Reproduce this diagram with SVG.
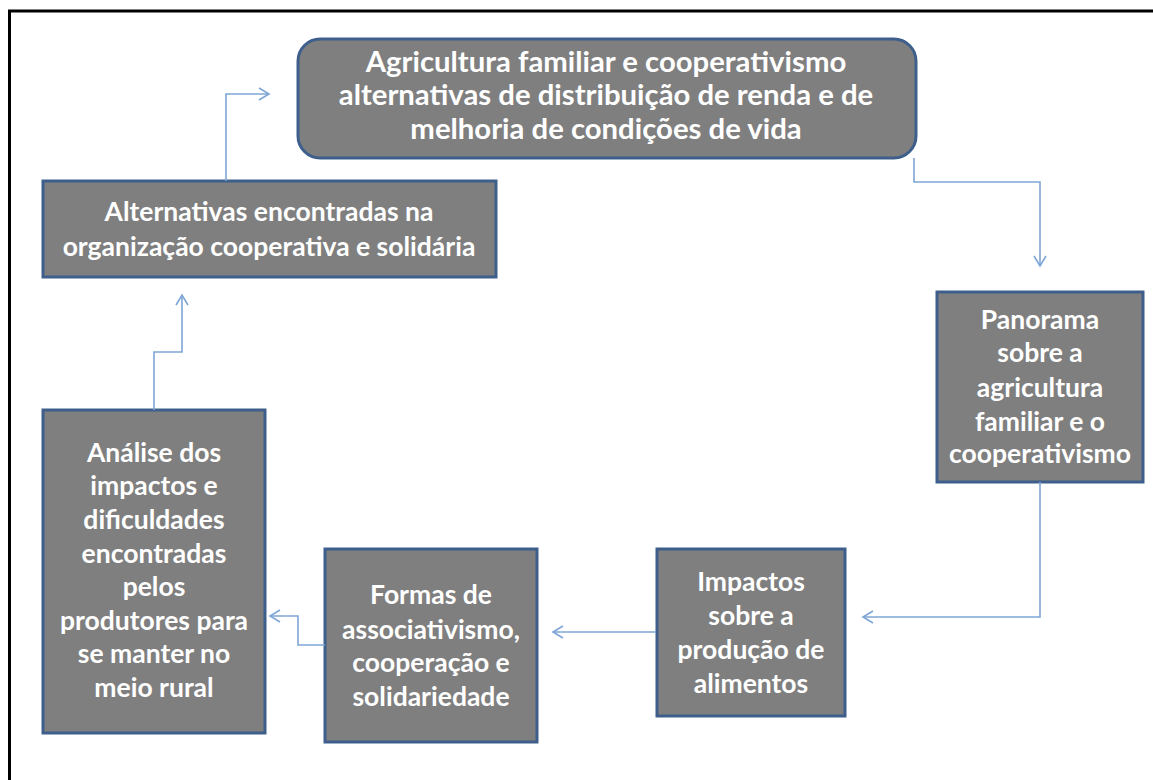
<svg xmlns="http://www.w3.org/2000/svg" width="1153" height="780" viewBox="0 0 1153 780">
<defs>
<style>
.box{fill:#7f7f7f;stroke:#3e5f8c;stroke-width:3}
.t{font-family:Lato,"Liberation Sans",sans-serif;font-weight:bold;fill:#ffffff;text-anchor:middle;font-size:26.5px}
.tt{font-size:29.3px}
.c{fill:none;stroke:#7fa5d6;stroke-width:1.6}
</style>
<marker id="ah" markerUnits="userSpaceOnUse" markerWidth="14" markerHeight="16" refX="11" refY="7" orient="auto">
<path d="M1,1 L11,7 L1,13" fill="none" stroke="#7fa5d6" stroke-width="1.6"/>
</marker>
</defs>
<rect width="1153" height="780" fill="#ffffff"/>
<path d="M9.5,780 V11 H1153" fill="none" stroke="#000000" stroke-width="3"/>

<g id="n_top">
<rect class="box" x="298" y="39" width="618" height="119" rx="22"/>
<text class="t tt" x="606" y="72">Agricultura familiar e cooperativismo</text>
<text class="t tt" x="606" y="105">alternativas de distribuição de renda e de</text>
<text class="t tt" x="606" y="139">melhoria de condições de vida</text>
</g>
<g id="n_panorama">
<rect class="box" x="937" y="292" width="206" height="190"/>
<text class="t" x="1040" y="329">Panorama</text>
<text class="t" x="1040" y="362">sobre a</text>
<text class="t" x="1040" y="397">agricultura</text>
<text class="t" x="1040" y="431">familiar e o</text>
<text class="t" x="1040" y="463">cooperativismo</text>
</g>
<g id="n_impactos">
<rect class="box" x="657" y="549" width="188" height="167"/>
<text class="t" x="751" y="591">Impactos</text>
<text class="t" x="751" y="625">sobre a</text>
<text class="t" x="751" y="659">produção de</text>
<text class="t" x="751" y="693">alimentos</text>
</g>
<g id="n_formas">
<rect class="box" x="325" y="549" width="212" height="193"/>
<text class="t" x="431" y="604">Formas de</text>
<text class="t" x="431" y="639">associativismo,</text>
<text class="t" x="431" y="672">cooperação e</text>
<text class="t" x="431" y="706">solidariedade</text>
</g>
<g id="n_analise">
<rect class="box" x="43" y="410" width="222" height="323"/>
<text class="t" x="154" y="462">Análise dos</text>
<text class="t" x="154" y="495">impactos e</text>
<text class="t" x="154" y="529">dificuldades</text>
<text class="t" x="154" y="563">encontradas</text>
<text class="t" x="154" y="596">pelos</text>
<text class="t" x="154" y="630">produtores para</text>
<text class="t" x="154" y="663">se manter no</text>
<text class="t" x="154" y="697">meio rural</text>
</g>
<g id="n_alternativas">
<rect class="box" x="43" y="181" width="453" height="96"/>
<text class="t" x="269" y="221">Alternativas encontradas na</text>
<text class="t" x="269" y="256">organização cooperativa e solidária</text>
</g>

<g id="connectors">
<path class="c" d="M914,158 V182 H1040 V266" marker-end="url(#ah)"/>
<path class="c" d="M1040,482 V617 H863" marker-end="url(#ah)"/>
<path class="c" d="M656,632 H553" marker-end="url(#ah)"/>
<path class="c" d="M325,645 H298 V616 H270" marker-end="url(#ah)"/>
<path class="c" d="M154,410 V352 H182 V295" marker-end="url(#ah)"/>
<path class="c" d="M226,181 V94 H269" marker-end="url(#ah)"/>
</g>
</svg>
